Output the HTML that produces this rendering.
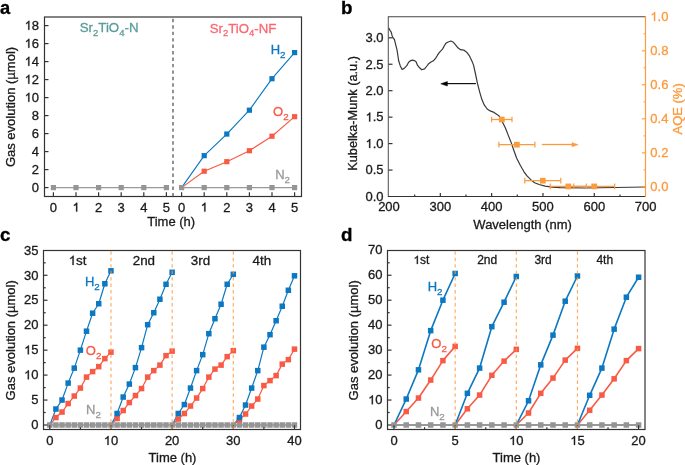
<!DOCTYPE html>
<html><head><meta charset="utf-8"><style>
html,body{margin:0;padding:0;background:#fff;}
svg{display:block;font-family:"Liberation Sans", sans-serif;will-change:transform;}
</style></head><body>
<svg width="685" height="465" viewBox="0 0 685 465">
<rect width="685" height="465" fill="#fff"/>
<polyline points="181.6,187.6 204.2,155.65 226.8,134.05 249.4,110.2 272,78.7 294.6,52.6" fill="none" stroke="#0c78c2" stroke-width="1.15" stroke-linejoin="round" />
<polyline points="181.6,187.6 204.2,171.22 226.8,161.68 249.4,150.7 272,136.21 294.6,116.68" fill="none" stroke="#f95a45" stroke-width="1.15" stroke-linejoin="round" />
<polyline points="53.4,187.6 76,187.6 98.6,187.6 121.2,187.6 143.8,187.6 166.4,187.6" fill="none" stroke="#999999" stroke-width="1.2" stroke-linejoin="round" />
<polyline points="181.6,187.6 204.2,187.6 226.8,187.6 249.4,187.6 272,187.6 294.6,187.6" fill="none" stroke="#999999" stroke-width="1.2" stroke-linejoin="round" />
<rect x="50.8" y="185" width="5.2" height="5.2" fill="#959595"/>
<rect x="73.4" y="185" width="5.2" height="5.2" fill="#959595"/>
<rect x="96" y="185" width="5.2" height="5.2" fill="#959595"/>
<rect x="118.6" y="185" width="5.2" height="5.2" fill="#959595"/>
<rect x="141.2" y="185" width="5.2" height="5.2" fill="#959595"/>
<rect x="163.8" y="185" width="5.2" height="5.2" fill="#959595"/>
<rect x="179" y="185" width="5.2" height="5.2" fill="#959595"/>
<rect x="201.6" y="185" width="5.2" height="5.2" fill="#959595"/>
<rect x="224.2" y="185" width="5.2" height="5.2" fill="#959595"/>
<rect x="246.8" y="185" width="5.2" height="5.2" fill="#959595"/>
<rect x="269.4" y="185" width="5.2" height="5.2" fill="#959595"/>
<rect x="292" y="185" width="5.2" height="5.2" fill="#959595"/>
<rect x="201.6" y="153.05" width="5.2" height="5.2" fill="#0c78c2"/>
<rect x="224.2" y="131.45" width="5.2" height="5.2" fill="#0c78c2"/>
<rect x="246.8" y="107.6" width="5.2" height="5.2" fill="#0c78c2"/>
<rect x="269.4" y="76.1" width="5.2" height="5.2" fill="#0c78c2"/>
<rect x="292" y="50" width="5.2" height="5.2" fill="#0c78c2"/>
<rect x="201.6" y="168.62" width="5.2" height="5.2" fill="#f95a45"/>
<rect x="224.2" y="159.08" width="5.2" height="5.2" fill="#f95a45"/>
<rect x="246.8" y="148.1" width="5.2" height="5.2" fill="#f95a45"/>
<rect x="269.4" y="133.61" width="5.2" height="5.2" fill="#f95a45"/>
<rect x="292" y="114.08" width="5.2" height="5.2" fill="#f95a45"/>
<line x1="173" y1="18.8" x2="173" y2="196.5" stroke="#777777" stroke-width="1.6" stroke-dasharray="3.4 3.05"/>
<rect x="44.5" y="17.0" width="257.0" height="179.5" fill="none" stroke="#333333" stroke-width="1.2"/>
<line x1="44.5" y1="187.6" x2="48.5" y2="187.6" stroke="#333333" stroke-width="1.2" />
<text x="39" y="191.8" text-anchor="end" font-size="13" fill="#1a1a1a" font-weight="normal"  stroke="#1a1a1a" stroke-width="0.3">0</text>
<line x1="44.5" y1="169.6" x2="48.5" y2="169.6" stroke="#333333" stroke-width="1.2" />
<text x="39" y="173.8" text-anchor="end" font-size="13" fill="#1a1a1a" font-weight="normal"  stroke="#1a1a1a" stroke-width="0.3">2</text>
<line x1="44.5" y1="151.6" x2="48.5" y2="151.6" stroke="#333333" stroke-width="1.2" />
<text x="39" y="155.8" text-anchor="end" font-size="13" fill="#1a1a1a" font-weight="normal"  stroke="#1a1a1a" stroke-width="0.3">4</text>
<line x1="44.5" y1="133.6" x2="48.5" y2="133.6" stroke="#333333" stroke-width="1.2" />
<text x="39" y="137.8" text-anchor="end" font-size="13" fill="#1a1a1a" font-weight="normal"  stroke="#1a1a1a" stroke-width="0.3">6</text>
<line x1="44.5" y1="115.6" x2="48.5" y2="115.6" stroke="#333333" stroke-width="1.2" />
<text x="39" y="119.8" text-anchor="end" font-size="13" fill="#1a1a1a" font-weight="normal"  stroke="#1a1a1a" stroke-width="0.3">8</text>
<line x1="44.5" y1="97.6" x2="48.5" y2="97.6" stroke="#333333" stroke-width="1.2" />
<text x="39" y="101.8" text-anchor="end" font-size="13" fill="#1a1a1a" font-weight="normal"  stroke="#1a1a1a" stroke-width="0.3">&#x2007;0</text>
<path d="M763,0 L583,0 L583,1097 Q520,1038 419,979 Q318,920 238,890 L238,1057 Q382,1125 490,1221 Q598,1318 643,1409 L763,1409 Z" fill="#1a1a1a" stroke="#1a1a1a" stroke-width="0.3" vector-effect="non-scaling-stroke" transform="translate(24.540,101.8) scale(0.006348,-0.006348)"/>
<line x1="44.5" y1="79.6" x2="48.5" y2="79.6" stroke="#333333" stroke-width="1.2" />
<text x="39" y="83.8" text-anchor="end" font-size="13" fill="#1a1a1a" font-weight="normal"  stroke="#1a1a1a" stroke-width="0.3">&#x2007;2</text>
<path d="M763,0 L583,0 L583,1097 Q520,1038 419,979 Q318,920 238,890 L238,1057 Q382,1125 490,1221 Q598,1318 643,1409 L763,1409 Z" fill="#1a1a1a" stroke="#1a1a1a" stroke-width="0.3" vector-effect="non-scaling-stroke" transform="translate(24.540,83.8) scale(0.006348,-0.006348)"/>
<line x1="44.5" y1="61.6" x2="48.5" y2="61.6" stroke="#333333" stroke-width="1.2" />
<text x="39" y="65.8" text-anchor="end" font-size="13" fill="#1a1a1a" font-weight="normal"  stroke="#1a1a1a" stroke-width="0.3">&#x2007;4</text>
<path d="M763,0 L583,0 L583,1097 Q520,1038 419,979 Q318,920 238,890 L238,1057 Q382,1125 490,1221 Q598,1318 643,1409 L763,1409 Z" fill="#1a1a1a" stroke="#1a1a1a" stroke-width="0.3" vector-effect="non-scaling-stroke" transform="translate(24.540,65.8) scale(0.006348,-0.006348)"/>
<line x1="44.5" y1="43.6" x2="48.5" y2="43.6" stroke="#333333" stroke-width="1.2" />
<text x="39" y="47.8" text-anchor="end" font-size="13" fill="#1a1a1a" font-weight="normal"  stroke="#1a1a1a" stroke-width="0.3">&#x2007;6</text>
<path d="M763,0 L583,0 L583,1097 Q520,1038 419,979 Q318,920 238,890 L238,1057 Q382,1125 490,1221 Q598,1318 643,1409 L763,1409 Z" fill="#1a1a1a" stroke="#1a1a1a" stroke-width="0.3" vector-effect="non-scaling-stroke" transform="translate(24.540,47.8) scale(0.006348,-0.006348)"/>
<line x1="44.5" y1="25.6" x2="48.5" y2="25.6" stroke="#333333" stroke-width="1.2" />
<text x="39" y="29.8" text-anchor="end" font-size="13" fill="#1a1a1a" font-weight="normal"  stroke="#1a1a1a" stroke-width="0.3">&#x2007;8</text>
<path d="M763,0 L583,0 L583,1097 Q520,1038 419,979 Q318,920 238,890 L238,1057 Q382,1125 490,1221 Q598,1318 643,1409 L763,1409 Z" fill="#1a1a1a" stroke="#1a1a1a" stroke-width="0.3" vector-effect="non-scaling-stroke" transform="translate(24.540,29.8) scale(0.006348,-0.006348)"/>
<line x1="53.4" y1="196.5" x2="53.4" y2="192.2" stroke="#333333" stroke-width="1.2" />
<text x="53.4" y="211.6" text-anchor="middle" font-size="13" fill="#1a1a1a" font-weight="normal"  stroke="#1a1a1a" stroke-width="0.3">0</text>
<line x1="181.6" y1="196.5" x2="181.6" y2="192.2" stroke="#333333" stroke-width="1.2" />
<text x="181.6" y="211.6" text-anchor="middle" font-size="13" fill="#1a1a1a" font-weight="normal"  stroke="#1a1a1a" stroke-width="0.3">0</text>
<line x1="76" y1="196.5" x2="76" y2="192.2" stroke="#333333" stroke-width="1.2" />
<text x="76" y="211.6" text-anchor="middle" font-size="13" fill="#1a1a1a" font-weight="normal"  stroke="#1a1a1a" stroke-width="0.3">&#x2007;</text>
<path d="M763,0 L583,0 L583,1097 Q520,1038 419,979 Q318,920 238,890 L238,1057 Q382,1125 490,1221 Q598,1318 643,1409 L763,1409 Z" fill="#1a1a1a" stroke="#1a1a1a" stroke-width="0.3" vector-effect="non-scaling-stroke" transform="translate(72.385,211.6) scale(0.006348,-0.006348)"/>
<line x1="204.2" y1="196.5" x2="204.2" y2="192.2" stroke="#333333" stroke-width="1.2" />
<text x="204.2" y="211.6" text-anchor="middle" font-size="13" fill="#1a1a1a" font-weight="normal"  stroke="#1a1a1a" stroke-width="0.3">&#x2007;</text>
<path d="M763,0 L583,0 L583,1097 Q520,1038 419,979 Q318,920 238,890 L238,1057 Q382,1125 490,1221 Q598,1318 643,1409 L763,1409 Z" fill="#1a1a1a" stroke="#1a1a1a" stroke-width="0.3" vector-effect="non-scaling-stroke" transform="translate(200.585,211.6) scale(0.006348,-0.006348)"/>
<line x1="98.6" y1="196.5" x2="98.6" y2="192.2" stroke="#333333" stroke-width="1.2" />
<text x="98.6" y="211.6" text-anchor="middle" font-size="13" fill="#1a1a1a" font-weight="normal"  stroke="#1a1a1a" stroke-width="0.3">2</text>
<line x1="226.8" y1="196.5" x2="226.8" y2="192.2" stroke="#333333" stroke-width="1.2" />
<text x="226.8" y="211.6" text-anchor="middle" font-size="13" fill="#1a1a1a" font-weight="normal"  stroke="#1a1a1a" stroke-width="0.3">2</text>
<line x1="121.2" y1="196.5" x2="121.2" y2="192.2" stroke="#333333" stroke-width="1.2" />
<text x="121.2" y="211.6" text-anchor="middle" font-size="13" fill="#1a1a1a" font-weight="normal"  stroke="#1a1a1a" stroke-width="0.3">3</text>
<line x1="249.4" y1="196.5" x2="249.4" y2="192.2" stroke="#333333" stroke-width="1.2" />
<text x="249.4" y="211.6" text-anchor="middle" font-size="13" fill="#1a1a1a" font-weight="normal"  stroke="#1a1a1a" stroke-width="0.3">3</text>
<line x1="143.8" y1="196.5" x2="143.8" y2="192.2" stroke="#333333" stroke-width="1.2" />
<text x="143.8" y="211.6" text-anchor="middle" font-size="13" fill="#1a1a1a" font-weight="normal"  stroke="#1a1a1a" stroke-width="0.3">4</text>
<line x1="272" y1="196.5" x2="272" y2="192.2" stroke="#333333" stroke-width="1.2" />
<text x="272" y="211.6" text-anchor="middle" font-size="13" fill="#1a1a1a" font-weight="normal"  stroke="#1a1a1a" stroke-width="0.3">4</text>
<line x1="166.4" y1="196.5" x2="166.4" y2="192.2" stroke="#333333" stroke-width="1.2" />
<text x="166.4" y="211.6" text-anchor="middle" font-size="13" fill="#1a1a1a" font-weight="normal"  stroke="#1a1a1a" stroke-width="0.3">5</text>
<line x1="294.6" y1="196.5" x2="294.6" y2="192.2" stroke="#333333" stroke-width="1.2" />
<text x="294.6" y="211.6" text-anchor="middle" font-size="13" fill="#1a1a1a" font-weight="normal"  stroke="#1a1a1a" stroke-width="0.3">5</text>
<text x="171.2" y="225.8" text-anchor="middle" font-size="13" fill="#1a1a1a" font-weight="normal"  stroke="#1a1a1a" stroke-width="0.3">Time (h)</text>
<text transform="translate(15.3,107.0) rotate(-90)" text-anchor="middle" font-size="13" fill="#1a1a1a" stroke="#1a1a1a" stroke-width="0.3">Gas evolution (µmol)</text>
<text x="79.7" y="32.3" font-size="13.3" fill="#5b9c9c" stroke="#5b9c9c" stroke-width="0.3">Sr<tspan font-size="9.5" dy="3.8">2</tspan><tspan dy="-3.8">TiO</tspan><tspan font-size="9.5" dy="3.8">4</tspan><tspan dy="-3.8">-N</tspan></text>
<text x="209.8" y="32.5" font-size="13.2" fill="#fa6872" stroke="#fa6872" stroke-width="0.3">Sr<tspan font-size="9.5" dy="3.8">2</tspan><tspan dy="-3.8">TiO</tspan><tspan font-size="9.5" dy="3.8">4</tspan><tspan dy="-3.8">-NF</tspan></text>
<text x="270.7" y="53.8" text-anchor="start" font-size="13" fill="#0c78c2" stroke="#0c78c2" stroke-width="0.3">H<tspan font-size="9.8" dy="4.0">2</tspan></text>
<text x="273" y="115.7" text-anchor="start" font-size="13" fill="#f95a45" stroke="#f95a45" stroke-width="0.3">O<tspan font-size="9.8" dy="4.0">2</tspan></text>
<text x="275.2" y="179.4" text-anchor="start" font-size="13" fill="#999999" stroke="#999999" stroke-width="0.3">N<tspan font-size="9.8" dy="4.0">2</tspan></text>
<text x="0" y="13.9" font-size="18.3" font-weight="bold" fill="#000" stroke="#000" stroke-width="0.3">a</text>
<path d="M388.6,27.8 L390,30.4 L391.1,31.9 L392.2,35.9 L392.9,37.7 L394.4,39.5 L395.5,43.9 L397,49.8 L397.8,55 L398.6,60.5 L400.1,65.4 L402.1,69.5 L404.2,68.4 L406.8,65.7 L408.6,62.2 L410.5,60.7 L412.4,60.2 L414.2,60.6 L415.9,61.6 L417.6,65.4 L419.6,67.8 L421.7,69.8 L424.6,68.9 L426.5,66.5 L428.7,63.7 L431,62 L433.4,60.8 L435.7,58.1 L437.5,55.2 L439.2,52.6 L442.5,49.1 L444.5,45.5 L445.7,43.6 L447.6,42.2 L450.8,41 L453.4,42.3 L455.4,44.6 L457.9,47.8 L460.5,49.7 L463.7,50.1 L467,52.6 L469.5,55.9 L472.1,61.4 L473.6,65.4 L475.2,72.5 L477.4,83.1 L479.7,92.1 L481.9,99.6 L484.2,104.9 L487.2,109 L490.2,110.9 L494,112.4 L497,114.4 L499.3,116.3 L502.3,121.8 L505.3,127.8 L508.3,135.4 L511.3,142.9 L513.6,149.7 L516.6,158 L520.4,165.5 L524,171.8 L527,175.9 L530.8,179.7 L534.6,182.7 L539.1,184.5 L545.1,186.1 L552.6,187.2 L560.2,187.7 L585,188 L645,187" fill="none" stroke="#383838" stroke-width="1.2" stroke-linejoin="round"/>
<line x1="446" y1="83.6" x2="475.9" y2="83.6" stroke="#111" stroke-width="1.2" />
<path d="M440.8,83.8 L447.4,81.6 L447.4,86 Z" fill="#000" stroke="#000" stroke-width="0.5" stroke-linejoin="round"/>
<line x1="541.8" y1="144.5" x2="573" y2="144.5" stroke="#fd9a3c" stroke-width="1.3" />
<path d="M578.2,144.7 L572,142.6 L572,146.8 Z" fill="#fd9a3c" stroke="#fd9a3c" stroke-width="0.5" stroke-linejoin="round"/>
<line x1="491.6" y1="119.5" x2="512" y2="119.5" stroke="#fd9a3c" stroke-width="1.3" />
<line x1="491.6" y1="116.65" x2="491.6" y2="122.35" stroke="#fd9a3c" stroke-width="1.2" />
<line x1="512" y1="116.65" x2="512" y2="122.35" stroke="#fd9a3c" stroke-width="1.2" />
<line x1="498.9" y1="144.7" x2="534.9" y2="144.7" stroke="#fd9a3c" stroke-width="1.3" />
<line x1="498.9" y1="141.85" x2="498.9" y2="147.55" stroke="#fd9a3c" stroke-width="1.2" />
<line x1="534.9" y1="141.85" x2="534.9" y2="147.55" stroke="#fd9a3c" stroke-width="1.2" />
<line x1="524.8" y1="180.7" x2="560.8" y2="180.7" stroke="#fd9a3c" stroke-width="1.3" />
<line x1="524.8" y1="177.85" x2="524.8" y2="183.55" stroke="#fd9a3c" stroke-width="1.2" />
<line x1="560.8" y1="177.85" x2="560.8" y2="183.55" stroke="#fd9a3c" stroke-width="1.2" />
<line x1="550.3" y1="186.4" x2="586.3" y2="186.4" stroke="#fd9a3c" stroke-width="1.3" />
<line x1="550.3" y1="183.55" x2="550.3" y2="189.25" stroke="#fd9a3c" stroke-width="1.2" />
<line x1="586.3" y1="183.55" x2="586.3" y2="189.25" stroke="#fd9a3c" stroke-width="1.2" />
<line x1="573.7" y1="186.4" x2="614.7" y2="186.4" stroke="#fd9a3c" stroke-width="1.3" />
<line x1="573.7" y1="183.55" x2="573.7" y2="189.25" stroke="#fd9a3c" stroke-width="1.2" />
<line x1="614.7" y1="183.55" x2="614.7" y2="189.25" stroke="#fd9a3c" stroke-width="1.2" />
<rect x="498.95" y="116.65" width="5.7" height="5.7" fill="#fd9a3c"/>
<rect x="514.05" y="141.85" width="5.7" height="5.7" fill="#fd9a3c"/>
<rect x="539.95" y="177.85" width="5.7" height="5.7" fill="#fd9a3c"/>
<rect x="565.45" y="183.55" width="5.7" height="5.7" fill="#fd9a3c"/>
<rect x="591.35" y="183.55" width="5.7" height="5.7" fill="#fd9a3c"/>
<line x1="388.3" y1="16.7" x2="388.3" y2="196.5" stroke="#555" stroke-width="1.05" />
<line x1="387.9" y1="196.5" x2="645.5" y2="196.5" stroke="#333333" stroke-width="1.2" />
<line x1="387.9" y1="16.7" x2="645.5" y2="16.7" stroke="#444" stroke-width="1.1" />
<line x1="645.5" y1="16.1" x2="645.5" y2="197.1" stroke="#fd9a3c" stroke-width="1.2" />
<text x="383.5" y="200.8" text-anchor="end" font-size="13" fill="#1a1a1a" font-weight="normal"  stroke="#1a1a1a" stroke-width="0.3">0.0</text>
<line x1="388.5" y1="170.05" x2="392.5" y2="170.05" stroke="#333333" stroke-width="1.2" />
<text x="383.5" y="174.35" text-anchor="end" font-size="13" fill="#1a1a1a" font-weight="normal"  stroke="#1a1a1a" stroke-width="0.3">0.5</text>
<line x1="388.5" y1="143.6" x2="392.5" y2="143.6" stroke="#333333" stroke-width="1.2" />
<text x="383.5" y="147.9" text-anchor="end" font-size="13" fill="#1a1a1a" font-weight="normal"  stroke="#1a1a1a" stroke-width="0.3">&#x2007;.0</text>
<path d="M763,0 L583,0 L583,1097 Q520,1038 419,979 Q318,920 238,890 L238,1057 Q382,1125 490,1221 Q598,1318 643,1409 L763,1409 Z" fill="#1a1a1a" stroke="#1a1a1a" stroke-width="0.3" vector-effect="non-scaling-stroke" transform="translate(365.428,147.9) scale(0.006348,-0.006348)"/>
<line x1="388.5" y1="117.15" x2="392.5" y2="117.15" stroke="#333333" stroke-width="1.2" />
<text x="383.5" y="121.45" text-anchor="end" font-size="13" fill="#1a1a1a" font-weight="normal"  stroke="#1a1a1a" stroke-width="0.3">&#x2007;.5</text>
<path d="M763,0 L583,0 L583,1097 Q520,1038 419,979 Q318,920 238,890 L238,1057 Q382,1125 490,1221 Q598,1318 643,1409 L763,1409 Z" fill="#1a1a1a" stroke="#1a1a1a" stroke-width="0.3" vector-effect="non-scaling-stroke" transform="translate(365.428,121.45) scale(0.006348,-0.006348)"/>
<line x1="388.5" y1="90.7" x2="392.5" y2="90.7" stroke="#333333" stroke-width="1.2" />
<text x="383.5" y="95" text-anchor="end" font-size="13" fill="#1a1a1a" font-weight="normal"  stroke="#1a1a1a" stroke-width="0.3">2.0</text>
<line x1="388.5" y1="64.25" x2="392.5" y2="64.25" stroke="#333333" stroke-width="1.2" />
<text x="383.5" y="68.55" text-anchor="end" font-size="13" fill="#1a1a1a" font-weight="normal"  stroke="#1a1a1a" stroke-width="0.3">2.5</text>
<line x1="388.5" y1="37.8" x2="392.5" y2="37.8" stroke="#333333" stroke-width="1.2" />
<text x="383.5" y="42.1" text-anchor="end" font-size="13" fill="#1a1a1a" font-weight="normal"  stroke="#1a1a1a" stroke-width="0.3">3.0</text>
<text x="389" y="211.3" text-anchor="middle" font-size="13" fill="#1a1a1a" font-weight="normal"  stroke="#1a1a1a" stroke-width="0.3">200</text>
<line x1="414.66" y1="196.5" x2="414.66" y2="194.6" stroke="#333333" stroke-width="1.2" />
<line x1="440.32" y1="196.5" x2="440.32" y2="192.9" stroke="#333333" stroke-width="1.2" />
<text x="440.32" y="211.3" text-anchor="middle" font-size="13" fill="#1a1a1a" font-weight="normal"  stroke="#1a1a1a" stroke-width="0.3">300</text>
<line x1="465.98" y1="196.5" x2="465.98" y2="194.6" stroke="#333333" stroke-width="1.2" />
<line x1="491.64" y1="196.5" x2="491.64" y2="192.9" stroke="#333333" stroke-width="1.2" />
<text x="491.64" y="211.3" text-anchor="middle" font-size="13" fill="#1a1a1a" font-weight="normal"  stroke="#1a1a1a" stroke-width="0.3">400</text>
<line x1="517.3" y1="196.5" x2="517.3" y2="194.6" stroke="#333333" stroke-width="1.2" />
<line x1="542.96" y1="196.5" x2="542.96" y2="192.9" stroke="#333333" stroke-width="1.2" />
<text x="542.96" y="211.3" text-anchor="middle" font-size="13" fill="#1a1a1a" font-weight="normal"  stroke="#1a1a1a" stroke-width="0.3">500</text>
<line x1="568.62" y1="196.5" x2="568.62" y2="194.6" stroke="#333333" stroke-width="1.2" />
<line x1="594.28" y1="196.5" x2="594.28" y2="192.9" stroke="#333333" stroke-width="1.2" />
<text x="594.28" y="211.3" text-anchor="middle" font-size="13" fill="#1a1a1a" font-weight="normal"  stroke="#1a1a1a" stroke-width="0.3">600</text>
<line x1="619.94" y1="196.5" x2="619.94" y2="194.6" stroke="#333333" stroke-width="1.2" />
<text x="645.6" y="211.3" text-anchor="middle" font-size="13" fill="#1a1a1a" font-weight="normal"  stroke="#1a1a1a" stroke-width="0.3">700</text>
<line x1="645.5" y1="186.9" x2="641.8" y2="186.9" stroke="#fd9a3c" stroke-width="1.1" />
<text x="650.3" y="191.1" text-anchor="start" font-size="13" fill="#fd9a3c" font-weight="normal"  stroke="#fd9a3c" stroke-width="0.3">0.0</text>
<line x1="645.5" y1="169.89" x2="643.6" y2="169.89" stroke="#fd9a3c" stroke-width="1.1" />
<line x1="645.5" y1="152.88" x2="641.8" y2="152.88" stroke="#fd9a3c" stroke-width="1.1" />
<text x="650.3" y="157.08" text-anchor="start" font-size="13" fill="#fd9a3c" font-weight="normal"  stroke="#fd9a3c" stroke-width="0.3">0.2</text>
<line x1="645.5" y1="135.87" x2="643.6" y2="135.87" stroke="#fd9a3c" stroke-width="1.1" />
<line x1="645.5" y1="118.86" x2="641.8" y2="118.86" stroke="#fd9a3c" stroke-width="1.1" />
<text x="650.3" y="123.06" text-anchor="start" font-size="13" fill="#fd9a3c" font-weight="normal"  stroke="#fd9a3c" stroke-width="0.3">0.4</text>
<line x1="645.5" y1="101.85" x2="643.6" y2="101.85" stroke="#fd9a3c" stroke-width="1.1" />
<line x1="645.5" y1="84.84" x2="641.8" y2="84.84" stroke="#fd9a3c" stroke-width="1.1" />
<text x="650.3" y="89.04" text-anchor="start" font-size="13" fill="#fd9a3c" font-weight="normal"  stroke="#fd9a3c" stroke-width="0.3">0.6</text>
<line x1="645.5" y1="67.83" x2="643.6" y2="67.83" stroke="#fd9a3c" stroke-width="1.1" />
<line x1="645.5" y1="50.82" x2="641.8" y2="50.82" stroke="#fd9a3c" stroke-width="1.1" />
<text x="650.3" y="55.02" text-anchor="start" font-size="13" fill="#fd9a3c" font-weight="normal"  stroke="#fd9a3c" stroke-width="0.3">0.8</text>
<line x1="645.5" y1="33.81" x2="643.6" y2="33.81" stroke="#fd9a3c" stroke-width="1.1" />
<text x="650.3" y="21" text-anchor="start" font-size="13" fill="#fd9a3c" font-weight="normal"  stroke="#fd9a3c" stroke-width="0.3">&#x2007;.0</text>
<path d="M763,0 L583,0 L583,1097 Q520,1038 419,979 Q318,920 238,890 L238,1057 Q382,1125 490,1221 Q598,1318 643,1409 L763,1409 Z" fill="#fd9a3c" stroke="#fd9a3c" stroke-width="0.3" vector-effect="non-scaling-stroke" transform="translate(650.300,21) scale(0.006348,-0.006348)"/>
<text x="522.6" y="229.2" text-anchor="middle" font-size="13" fill="#1a1a1a" font-weight="normal"  stroke="#1a1a1a" stroke-width="0.3">Wavelength (nm)</text>
<text transform="translate(356.6,113.4) rotate(-90)" text-anchor="middle" font-size="12.75" fill="#1a1a1a" stroke="#1a1a1a" stroke-width="0.3">Kubelka-Munk (a.u.)</text>
<text transform="translate(682,108.9) rotate(-90)" text-anchor="middle" font-size="13" fill="#fd9a3c" stroke="#fd9a3c" stroke-width="0.3">AQE (%)</text>
<text x="341" y="13.8" font-size="18.8" font-weight="bold" fill="#000" stroke="#000" stroke-width="0.3">b</text>
<polyline points="49.8,425 55.92,417.51 62.03,412.03 68.15,403.54 74.27,396.06 80.38,388.07 86.5,377.1 92.62,371.61 98.74,366.62 104.85,358.63 110.97,352.15" fill="none" stroke="#f95a45" stroke-width="1.2" stroke-linejoin="round" />
<polyline points="49.8,425 55.92,409.03 62.03,400.05 68.15,383.08 74.27,368.11 80.38,350.15 86.5,331.19 92.62,313.22 98.74,303.74 104.85,283.78 110.97,270.81" fill="none" stroke="#0c78c2" stroke-width="1.2" stroke-linejoin="round" />
<polyline points="110.97,425 117.09,418.51 123.2,410.53 129.32,402.55 135.44,395.56 141.56,388.57 147.67,377.1 153.79,370.61 159.91,365.12 166.02,355.64 172.14,351.15" fill="none" stroke="#f95a45" stroke-width="1.2" stroke-linejoin="round" />
<polyline points="110.97,425 117.09,413.52 123.2,397.06 129.32,384.08 135.44,367.62 141.56,347.65 147.67,324.7 153.79,312.73 159.91,299.25 166.02,284.28 172.14,272.31" fill="none" stroke="#0c78c2" stroke-width="1.2" stroke-linejoin="round" />
<polyline points="172.14,425 178.26,419.01 184.37,413.52 190.49,406.04 196.61,398.05 202.73,388.57 208.84,377.1 214.96,369.11 221.08,365.12 227.19,356.64 233.31,350.65" fill="none" stroke="#f95a45" stroke-width="1.2" stroke-linejoin="round" />
<polyline points="172.14,425 178.26,413.52 184.37,404.54 190.49,388.07 196.61,370.61 202.73,354.64 208.84,333.68 214.96,318.71 221.08,304.24 227.19,284.28 233.31,274.3" fill="none" stroke="#0c78c2" stroke-width="1.2" stroke-linejoin="round" />
<polyline points="233.31,425 239.43,420.01 245.54,414.02 251.66,406.04 257.78,399.05 263.89,385.58 270.01,380.59 276.13,375.6 282.25,364.12 288.36,359.63 294.48,349.15" fill="none" stroke="#f95a45" stroke-width="1.2" stroke-linejoin="round" />
<polyline points="233.31,425 239.43,417.51 245.54,405.04 251.66,388.07 257.78,370.61 263.89,347.16 270.01,334.68 276.13,320.71 282.25,306.24 288.36,290.27 294.48,275.8" fill="none" stroke="#0c78c2" stroke-width="1.2" stroke-linejoin="round" />
<polyline points="49.8,425 55.92,425 62.03,425 68.15,425 74.27,425 80.38,425 86.5,425 92.62,425 98.74,425 104.85,425 110.97,425 117.09,425 123.2,425 129.32,425 135.44,425 141.56,425 147.67,425 153.79,425 159.91,425 166.02,425 172.14,425 178.26,425 184.37,425 190.49,425 196.61,425 202.73,425 208.84,425 214.96,425 221.08,425 227.19,425 233.31,425 239.43,425 245.54,425 251.66,425 257.78,425 263.89,425 270.01,425 276.13,425 282.25,425 288.36,425 294.48,425" fill="none" stroke="#999999" stroke-width="1.5" stroke-linejoin="round" />
<rect x="47.05" y="422.25" width="5.5" height="5.5" fill="#959595"/>
<rect x="53.17" y="422.25" width="5.5" height="5.5" fill="#959595"/>
<rect x="59.28" y="422.25" width="5.5" height="5.5" fill="#959595"/>
<rect x="65.4" y="422.25" width="5.5" height="5.5" fill="#959595"/>
<rect x="71.52" y="422.25" width="5.5" height="5.5" fill="#959595"/>
<rect x="77.63" y="422.25" width="5.5" height="5.5" fill="#959595"/>
<rect x="83.75" y="422.25" width="5.5" height="5.5" fill="#959595"/>
<rect x="89.87" y="422.25" width="5.5" height="5.5" fill="#959595"/>
<rect x="95.99" y="422.25" width="5.5" height="5.5" fill="#959595"/>
<rect x="102.1" y="422.25" width="5.5" height="5.5" fill="#959595"/>
<rect x="108.22" y="422.25" width="5.5" height="5.5" fill="#959595"/>
<rect x="114.34" y="422.25" width="5.5" height="5.5" fill="#959595"/>
<rect x="120.45" y="422.25" width="5.5" height="5.5" fill="#959595"/>
<rect x="126.57" y="422.25" width="5.5" height="5.5" fill="#959595"/>
<rect x="132.69" y="422.25" width="5.5" height="5.5" fill="#959595"/>
<rect x="138.81" y="422.25" width="5.5" height="5.5" fill="#959595"/>
<rect x="144.92" y="422.25" width="5.5" height="5.5" fill="#959595"/>
<rect x="151.04" y="422.25" width="5.5" height="5.5" fill="#959595"/>
<rect x="157.16" y="422.25" width="5.5" height="5.5" fill="#959595"/>
<rect x="163.27" y="422.25" width="5.5" height="5.5" fill="#959595"/>
<rect x="169.39" y="422.25" width="5.5" height="5.5" fill="#959595"/>
<rect x="175.51" y="422.25" width="5.5" height="5.5" fill="#959595"/>
<rect x="181.62" y="422.25" width="5.5" height="5.5" fill="#959595"/>
<rect x="187.74" y="422.25" width="5.5" height="5.5" fill="#959595"/>
<rect x="193.86" y="422.25" width="5.5" height="5.5" fill="#959595"/>
<rect x="199.98" y="422.25" width="5.5" height="5.5" fill="#959595"/>
<rect x="206.09" y="422.25" width="5.5" height="5.5" fill="#959595"/>
<rect x="212.21" y="422.25" width="5.5" height="5.5" fill="#959595"/>
<rect x="218.33" y="422.25" width="5.5" height="5.5" fill="#959595"/>
<rect x="224.44" y="422.25" width="5.5" height="5.5" fill="#959595"/>
<rect x="230.56" y="422.25" width="5.5" height="5.5" fill="#959595"/>
<rect x="236.68" y="422.25" width="5.5" height="5.5" fill="#959595"/>
<rect x="242.79" y="422.25" width="5.5" height="5.5" fill="#959595"/>
<rect x="248.91" y="422.25" width="5.5" height="5.5" fill="#959595"/>
<rect x="255.03" y="422.25" width="5.5" height="5.5" fill="#959595"/>
<rect x="261.14" y="422.25" width="5.5" height="5.5" fill="#959595"/>
<rect x="267.26" y="422.25" width="5.5" height="5.5" fill="#959595"/>
<rect x="273.38" y="422.25" width="5.5" height="5.5" fill="#959595"/>
<rect x="279.5" y="422.25" width="5.5" height="5.5" fill="#959595"/>
<rect x="285.61" y="422.25" width="5.5" height="5.5" fill="#959595"/>
<rect x="291.73" y="422.25" width="5.5" height="5.5" fill="#959595"/>
<rect x="53.17" y="414.76" width="5.5" height="5.5" fill="#f95a45"/>
<rect x="59.28" y="409.28" width="5.5" height="5.5" fill="#f95a45"/>
<rect x="65.4" y="400.79" width="5.5" height="5.5" fill="#f95a45"/>
<rect x="71.52" y="393.31" width="5.5" height="5.5" fill="#f95a45"/>
<rect x="77.63" y="385.32" width="5.5" height="5.5" fill="#f95a45"/>
<rect x="83.75" y="374.35" width="5.5" height="5.5" fill="#f95a45"/>
<rect x="89.87" y="368.86" width="5.5" height="5.5" fill="#f95a45"/>
<rect x="95.99" y="363.87" width="5.5" height="5.5" fill="#f95a45"/>
<rect x="102.1" y="355.88" width="5.5" height="5.5" fill="#f95a45"/>
<rect x="108.22" y="349.4" width="5.5" height="5.5" fill="#f95a45"/>
<rect x="53.17" y="406.28" width="5.5" height="5.5" fill="#0c78c2"/>
<rect x="59.28" y="397.3" width="5.5" height="5.5" fill="#0c78c2"/>
<rect x="65.4" y="380.33" width="5.5" height="5.5" fill="#0c78c2"/>
<rect x="71.52" y="365.36" width="5.5" height="5.5" fill="#0c78c2"/>
<rect x="77.63" y="347.4" width="5.5" height="5.5" fill="#0c78c2"/>
<rect x="83.75" y="328.44" width="5.5" height="5.5" fill="#0c78c2"/>
<rect x="89.87" y="310.47" width="5.5" height="5.5" fill="#0c78c2"/>
<rect x="95.99" y="300.99" width="5.5" height="5.5" fill="#0c78c2"/>
<rect x="102.1" y="281.03" width="5.5" height="5.5" fill="#0c78c2"/>
<rect x="108.22" y="268.06" width="5.5" height="5.5" fill="#0c78c2"/>
<rect x="114.34" y="415.76" width="5.5" height="5.5" fill="#f95a45"/>
<rect x="120.45" y="407.78" width="5.5" height="5.5" fill="#f95a45"/>
<rect x="126.57" y="399.8" width="5.5" height="5.5" fill="#f95a45"/>
<rect x="132.69" y="392.81" width="5.5" height="5.5" fill="#f95a45"/>
<rect x="138.81" y="385.82" width="5.5" height="5.5" fill="#f95a45"/>
<rect x="144.92" y="374.35" width="5.5" height="5.5" fill="#f95a45"/>
<rect x="151.04" y="367.86" width="5.5" height="5.5" fill="#f95a45"/>
<rect x="157.16" y="362.37" width="5.5" height="5.5" fill="#f95a45"/>
<rect x="163.27" y="352.89" width="5.5" height="5.5" fill="#f95a45"/>
<rect x="169.39" y="348.4" width="5.5" height="5.5" fill="#f95a45"/>
<rect x="114.34" y="410.77" width="5.5" height="5.5" fill="#0c78c2"/>
<rect x="120.45" y="394.31" width="5.5" height="5.5" fill="#0c78c2"/>
<rect x="126.57" y="381.33" width="5.5" height="5.5" fill="#0c78c2"/>
<rect x="132.69" y="364.87" width="5.5" height="5.5" fill="#0c78c2"/>
<rect x="138.81" y="344.9" width="5.5" height="5.5" fill="#0c78c2"/>
<rect x="144.92" y="321.95" width="5.5" height="5.5" fill="#0c78c2"/>
<rect x="151.04" y="309.98" width="5.5" height="5.5" fill="#0c78c2"/>
<rect x="157.16" y="296.5" width="5.5" height="5.5" fill="#0c78c2"/>
<rect x="163.27" y="281.53" width="5.5" height="5.5" fill="#0c78c2"/>
<rect x="169.39" y="269.56" width="5.5" height="5.5" fill="#0c78c2"/>
<rect x="175.51" y="416.26" width="5.5" height="5.5" fill="#f95a45"/>
<rect x="181.62" y="410.77" width="5.5" height="5.5" fill="#f95a45"/>
<rect x="187.74" y="403.29" width="5.5" height="5.5" fill="#f95a45"/>
<rect x="193.86" y="395.3" width="5.5" height="5.5" fill="#f95a45"/>
<rect x="199.98" y="385.82" width="5.5" height="5.5" fill="#f95a45"/>
<rect x="206.09" y="374.35" width="5.5" height="5.5" fill="#f95a45"/>
<rect x="212.21" y="366.36" width="5.5" height="5.5" fill="#f95a45"/>
<rect x="218.33" y="362.37" width="5.5" height="5.5" fill="#f95a45"/>
<rect x="224.44" y="353.89" width="5.5" height="5.5" fill="#f95a45"/>
<rect x="230.56" y="347.9" width="5.5" height="5.5" fill="#f95a45"/>
<rect x="175.51" y="410.77" width="5.5" height="5.5" fill="#0c78c2"/>
<rect x="181.62" y="401.79" width="5.5" height="5.5" fill="#0c78c2"/>
<rect x="187.74" y="385.32" width="5.5" height="5.5" fill="#0c78c2"/>
<rect x="193.86" y="367.86" width="5.5" height="5.5" fill="#0c78c2"/>
<rect x="199.98" y="351.89" width="5.5" height="5.5" fill="#0c78c2"/>
<rect x="206.09" y="330.93" width="5.5" height="5.5" fill="#0c78c2"/>
<rect x="212.21" y="315.96" width="5.5" height="5.5" fill="#0c78c2"/>
<rect x="218.33" y="301.49" width="5.5" height="5.5" fill="#0c78c2"/>
<rect x="224.44" y="281.53" width="5.5" height="5.5" fill="#0c78c2"/>
<rect x="230.56" y="271.55" width="5.5" height="5.5" fill="#0c78c2"/>
<rect x="236.68" y="417.26" width="5.5" height="5.5" fill="#f95a45"/>
<rect x="242.79" y="411.27" width="5.5" height="5.5" fill="#f95a45"/>
<rect x="248.91" y="403.29" width="5.5" height="5.5" fill="#f95a45"/>
<rect x="255.03" y="396.3" width="5.5" height="5.5" fill="#f95a45"/>
<rect x="261.14" y="382.83" width="5.5" height="5.5" fill="#f95a45"/>
<rect x="267.26" y="377.84" width="5.5" height="5.5" fill="#f95a45"/>
<rect x="273.38" y="372.85" width="5.5" height="5.5" fill="#f95a45"/>
<rect x="279.5" y="361.37" width="5.5" height="5.5" fill="#f95a45"/>
<rect x="285.61" y="356.88" width="5.5" height="5.5" fill="#f95a45"/>
<rect x="291.73" y="346.4" width="5.5" height="5.5" fill="#f95a45"/>
<rect x="236.68" y="414.76" width="5.5" height="5.5" fill="#0c78c2"/>
<rect x="242.79" y="402.29" width="5.5" height="5.5" fill="#0c78c2"/>
<rect x="248.91" y="385.32" width="5.5" height="5.5" fill="#0c78c2"/>
<rect x="255.03" y="367.86" width="5.5" height="5.5" fill="#0c78c2"/>
<rect x="261.14" y="344.41" width="5.5" height="5.5" fill="#0c78c2"/>
<rect x="267.26" y="331.93" width="5.5" height="5.5" fill="#0c78c2"/>
<rect x="273.38" y="317.96" width="5.5" height="5.5" fill="#0c78c2"/>
<rect x="279.5" y="303.49" width="5.5" height="5.5" fill="#0c78c2"/>
<rect x="285.61" y="287.52" width="5.5" height="5.5" fill="#0c78c2"/>
<rect x="291.73" y="273.05" width="5.5" height="5.5" fill="#0c78c2"/>
<rect x="43.5" y="250.5" width="257" height="179" fill="none" stroke="#333333" stroke-width="1.2"/>
<line x1="43.5" y1="425" x2="47.5" y2="425" stroke="#333333" stroke-width="1.2" />
<text x="38.5" y="429.2" text-anchor="end" font-size="13" fill="#1a1a1a" font-weight="normal"  stroke="#1a1a1a" stroke-width="0.3">0</text>
<line x1="43.5" y1="412.52" x2="45.7" y2="412.52" stroke="#333333" stroke-width="1.2" />
<line x1="43.5" y1="400.05" x2="47.5" y2="400.05" stroke="#333333" stroke-width="1.2" />
<text x="38.5" y="404.25" text-anchor="end" font-size="13" fill="#1a1a1a" font-weight="normal"  stroke="#1a1a1a" stroke-width="0.3">5</text>
<line x1="43.5" y1="387.57" x2="45.7" y2="387.57" stroke="#333333" stroke-width="1.2" />
<line x1="43.5" y1="375.1" x2="47.5" y2="375.1" stroke="#333333" stroke-width="1.2" />
<text x="38.5" y="379.3" text-anchor="end" font-size="13" fill="#1a1a1a" font-weight="normal"  stroke="#1a1a1a" stroke-width="0.3">&#x2007;0</text>
<path d="M763,0 L583,0 L583,1097 Q520,1038 419,979 Q318,920 238,890 L238,1057 Q382,1125 490,1221 Q598,1318 643,1409 L763,1409 Z" fill="#1a1a1a" stroke="#1a1a1a" stroke-width="0.3" vector-effect="non-scaling-stroke" transform="translate(24.040,379.3) scale(0.006348,-0.006348)"/>
<line x1="43.5" y1="362.62" x2="45.7" y2="362.62" stroke="#333333" stroke-width="1.2" />
<line x1="43.5" y1="350.15" x2="47.5" y2="350.15" stroke="#333333" stroke-width="1.2" />
<text x="38.5" y="354.35" text-anchor="end" font-size="13" fill="#1a1a1a" font-weight="normal"  stroke="#1a1a1a" stroke-width="0.3">&#x2007;5</text>
<path d="M763,0 L583,0 L583,1097 Q520,1038 419,979 Q318,920 238,890 L238,1057 Q382,1125 490,1221 Q598,1318 643,1409 L763,1409 Z" fill="#1a1a1a" stroke="#1a1a1a" stroke-width="0.3" vector-effect="non-scaling-stroke" transform="translate(24.040,354.35) scale(0.006348,-0.006348)"/>
<line x1="43.5" y1="337.68" x2="45.7" y2="337.68" stroke="#333333" stroke-width="1.2" />
<line x1="43.5" y1="325.2" x2="47.5" y2="325.2" stroke="#333333" stroke-width="1.2" />
<text x="38.5" y="329.4" text-anchor="end" font-size="13" fill="#1a1a1a" font-weight="normal"  stroke="#1a1a1a" stroke-width="0.3">20</text>
<line x1="43.5" y1="312.73" x2="45.7" y2="312.73" stroke="#333333" stroke-width="1.2" />
<line x1="43.5" y1="300.25" x2="47.5" y2="300.25" stroke="#333333" stroke-width="1.2" />
<text x="38.5" y="304.45" text-anchor="end" font-size="13" fill="#1a1a1a" font-weight="normal"  stroke="#1a1a1a" stroke-width="0.3">25</text>
<line x1="43.5" y1="287.77" x2="45.7" y2="287.77" stroke="#333333" stroke-width="1.2" />
<line x1="43.5" y1="275.3" x2="47.5" y2="275.3" stroke="#333333" stroke-width="1.2" />
<text x="38.5" y="279.5" text-anchor="end" font-size="13" fill="#1a1a1a" font-weight="normal"  stroke="#1a1a1a" stroke-width="0.3">30</text>
<line x1="43.5" y1="262.82" x2="45.7" y2="262.82" stroke="#333333" stroke-width="1.2" />
<text x="38.5" y="254.55" text-anchor="end" font-size="13" fill="#1a1a1a" font-weight="normal"  stroke="#1a1a1a" stroke-width="0.3">35</text>
<line x1="49.8" y1="429.5" x2="49.8" y2="425.2" stroke="#333333" stroke-width="1.2" />
<text x="49.8" y="444.9" text-anchor="middle" font-size="13" fill="#1a1a1a" font-weight="normal"  stroke="#1a1a1a" stroke-width="0.3">0</text>
<line x1="80.38" y1="429.5" x2="80.38" y2="427.2" stroke="#333333" stroke-width="1.2" />
<line x1="110.97" y1="429.5" x2="110.97" y2="425.2" stroke="#333333" stroke-width="1.2" />
<text x="110.97" y="444.9" text-anchor="middle" font-size="13" fill="#1a1a1a" font-weight="normal"  stroke="#1a1a1a" stroke-width="0.3">&#x2007;0</text>
<path d="M763,0 L583,0 L583,1097 Q520,1038 419,979 Q318,920 238,890 L238,1057 Q382,1125 490,1221 Q598,1318 643,1409 L763,1409 Z" fill="#1a1a1a" stroke="#1a1a1a" stroke-width="0.3" vector-effect="non-scaling-stroke" transform="translate(103.740,444.9) scale(0.006348,-0.006348)"/>
<line x1="141.56" y1="429.5" x2="141.56" y2="427.2" stroke="#333333" stroke-width="1.2" />
<line x1="172.14" y1="429.5" x2="172.14" y2="425.2" stroke="#333333" stroke-width="1.2" />
<text x="172.14" y="444.9" text-anchor="middle" font-size="13" fill="#1a1a1a" font-weight="normal"  stroke="#1a1a1a" stroke-width="0.3">20</text>
<line x1="202.73" y1="429.5" x2="202.73" y2="427.2" stroke="#333333" stroke-width="1.2" />
<line x1="233.31" y1="429.5" x2="233.31" y2="425.2" stroke="#333333" stroke-width="1.2" />
<text x="233.31" y="444.9" text-anchor="middle" font-size="13" fill="#1a1a1a" font-weight="normal"  stroke="#1a1a1a" stroke-width="0.3">30</text>
<line x1="263.89" y1="429.5" x2="263.89" y2="427.2" stroke="#333333" stroke-width="1.2" />
<line x1="294.48" y1="429.5" x2="294.48" y2="425.2" stroke="#333333" stroke-width="1.2" />
<text x="294.48" y="444.9" text-anchor="middle" font-size="13" fill="#1a1a1a" font-weight="normal"  stroke="#1a1a1a" stroke-width="0.3">40</text>
<line x1="110.97" y1="251.3" x2="110.97" y2="428.9" stroke="#fd9c40" stroke-width="1.15" stroke-dasharray="3.4 3.06" opacity="0.85"/>
<line x1="172.14" y1="251.3" x2="172.14" y2="428.9" stroke="#fd9c40" stroke-width="1.15" stroke-dasharray="3.4 3.06" opacity="0.85"/>
<line x1="233.31" y1="251.3" x2="233.31" y2="428.9" stroke="#fd9c40" stroke-width="1.15" stroke-dasharray="3.4 3.06" opacity="0.85"/>
<text x="68.65" y="264.9" text-anchor="start" font-size="13.4" fill="#1a1a1a" font-weight="normal"  stroke="#1a1a1a" stroke-width="0.3">&#x2007;st</text>
<path d="M763,0 L583,0 L583,1097 Q520,1038 419,979 Q318,920 238,890 L238,1057 Q382,1125 490,1221 Q598,1318 643,1409 L763,1409 Z" fill="#1a1a1a" stroke="#1a1a1a" stroke-width="0.3" vector-effect="non-scaling-stroke" transform="translate(68.650,264.9) scale(0.006543,-0.006543)"/>
<text x="132.7" y="264.9" text-anchor="start" font-size="13.4" fill="#1a1a1a" font-weight="normal"  stroke="#1a1a1a" stroke-width="0.3">2nd</text>
<text x="190.85" y="264.9" text-anchor="start" font-size="13.4" fill="#1a1a1a" font-weight="normal"  stroke="#1a1a1a" stroke-width="0.3">3rd</text>
<text x="252.5" y="264.9" text-anchor="start" font-size="13.4" fill="#1a1a1a" font-weight="normal"  stroke="#1a1a1a" stroke-width="0.3">4th</text>
<text x="84.9" y="285.9" text-anchor="start" font-size="13" fill="#0c78c2" stroke="#0c78c2" stroke-width="0.3">H<tspan font-size="9.8" dy="4.0">2</tspan></text>
<text x="85.8" y="354.9" text-anchor="start" font-size="13" fill="#f95a45" stroke="#f95a45" stroke-width="0.3">O<tspan font-size="9.8" dy="4.0">2</tspan></text>
<text x="86" y="414.4" text-anchor="start" font-size="13" fill="#999999" stroke="#999999" stroke-width="0.3">N<tspan font-size="9.8" dy="4.0">2</tspan></text>
<text x="172.5" y="461.8" text-anchor="middle" font-size="13" fill="#1a1a1a" font-weight="normal"  stroke="#1a1a1a" stroke-width="0.3">Time (h)</text>
<text transform="translate(15.3,340.3) rotate(-90)" text-anchor="middle" font-size="13" fill="#1a1a1a" stroke="#1a1a1a" stroke-width="0.3">Gas evolution (µmol)</text>
<text x="0" y="241" font-size="18.8" font-weight="bold" fill="#000" stroke="#000" stroke-width="0.3">c</text>
<polyline points="394,425 406.23,411.52 418.46,398.04 430.69,380.07 442.92,360.6 455.15,346.38" fill="none" stroke="#f95a45" stroke-width="1.6" stroke-linejoin="round" />
<polyline points="394,425 406.23,399.04 418.46,369.84 430.69,330.65 442.92,300.2 455.15,273.49" fill="none" stroke="#0c78c2" stroke-width="1.6" stroke-linejoin="round" />
<polyline points="455.15,425 467.38,408.78 479.61,395.05 491.84,375.33 504.07,361.1 516.3,349.37" fill="none" stroke="#f95a45" stroke-width="1.6" stroke-linejoin="round" />
<polyline points="455.15,425 467.38,393.3 479.61,368.09 491.84,326.66 504.07,302.2 516.3,276.49" fill="none" stroke="#0c78c2" stroke-width="1.6" stroke-linejoin="round" />
<polyline points="516.3,425 528.53,413.02 540.76,393.3 552.99,378.08 565.22,360.1 577.45,348.37" fill="none" stroke="#f95a45" stroke-width="1.6" stroke-linejoin="round" />
<polyline points="516.3,425 528.53,400.79 540.76,364.85 552.99,335.14 565.22,301.2 577.45,275.99" fill="none" stroke="#0c78c2" stroke-width="1.6" stroke-linejoin="round" />
<polyline points="577.45,425 589.68,410.27 601.91,395.05 614.14,378.82 626.37,360.6 638.6,348.62" fill="none" stroke="#f95a45" stroke-width="1.6" stroke-linejoin="round" />
<polyline points="577.45,425 589.68,395.3 601.91,368.09 614.14,329.15 626.37,297.2 638.6,277.24" fill="none" stroke="#0c78c2" stroke-width="1.6" stroke-linejoin="round" />
<polyline points="394,425 406.23,425 418.46,425 430.69,425 442.92,425 455.15,425 467.38,425 479.61,425 491.84,425 504.07,425 516.3,425 528.53,425 540.76,425 552.99,425 565.22,425 577.45,425 589.68,425 601.91,425 614.14,425 626.37,425 638.6,425" fill="none" stroke="#999999" stroke-width="1.9000000000000001" stroke-linejoin="round" />
<rect x="391.25" y="422.25" width="5.5" height="5.5" fill="#959595"/>
<rect x="403.48" y="422.25" width="5.5" height="5.5" fill="#959595"/>
<rect x="415.71" y="422.25" width="5.5" height="5.5" fill="#959595"/>
<rect x="427.94" y="422.25" width="5.5" height="5.5" fill="#959595"/>
<rect x="440.17" y="422.25" width="5.5" height="5.5" fill="#959595"/>
<rect x="452.4" y="422.25" width="5.5" height="5.5" fill="#959595"/>
<rect x="464.63" y="422.25" width="5.5" height="5.5" fill="#959595"/>
<rect x="476.86" y="422.25" width="5.5" height="5.5" fill="#959595"/>
<rect x="489.09" y="422.25" width="5.5" height="5.5" fill="#959595"/>
<rect x="501.32" y="422.25" width="5.5" height="5.5" fill="#959595"/>
<rect x="513.55" y="422.25" width="5.5" height="5.5" fill="#959595"/>
<rect x="525.78" y="422.25" width="5.5" height="5.5" fill="#959595"/>
<rect x="538.01" y="422.25" width="5.5" height="5.5" fill="#959595"/>
<rect x="550.24" y="422.25" width="5.5" height="5.5" fill="#959595"/>
<rect x="562.47" y="422.25" width="5.5" height="5.5" fill="#959595"/>
<rect x="574.7" y="422.25" width="5.5" height="5.5" fill="#959595"/>
<rect x="586.93" y="422.25" width="5.5" height="5.5" fill="#959595"/>
<rect x="599.16" y="422.25" width="5.5" height="5.5" fill="#959595"/>
<rect x="611.39" y="422.25" width="5.5" height="5.5" fill="#959595"/>
<rect x="623.62" y="422.25" width="5.5" height="5.5" fill="#959595"/>
<rect x="635.85" y="422.25" width="5.5" height="5.5" fill="#959595"/>
<rect x="403.48" y="408.77" width="5.5" height="5.5" fill="#f95a45"/>
<rect x="415.71" y="395.29" width="5.5" height="5.5" fill="#f95a45"/>
<rect x="427.94" y="377.32" width="5.5" height="5.5" fill="#f95a45"/>
<rect x="440.17" y="357.85" width="5.5" height="5.5" fill="#f95a45"/>
<rect x="452.4" y="343.63" width="5.5" height="5.5" fill="#f95a45"/>
<rect x="403.48" y="396.29" width="5.5" height="5.5" fill="#0c78c2"/>
<rect x="415.71" y="367.09" width="5.5" height="5.5" fill="#0c78c2"/>
<rect x="427.94" y="327.9" width="5.5" height="5.5" fill="#0c78c2"/>
<rect x="440.17" y="297.45" width="5.5" height="5.5" fill="#0c78c2"/>
<rect x="452.4" y="270.74" width="5.5" height="5.5" fill="#0c78c2"/>
<rect x="464.63" y="406.03" width="5.5" height="5.5" fill="#f95a45"/>
<rect x="476.86" y="392.3" width="5.5" height="5.5" fill="#f95a45"/>
<rect x="489.09" y="372.58" width="5.5" height="5.5" fill="#f95a45"/>
<rect x="501.32" y="358.35" width="5.5" height="5.5" fill="#f95a45"/>
<rect x="513.55" y="346.62" width="5.5" height="5.5" fill="#f95a45"/>
<rect x="464.63" y="390.55" width="5.5" height="5.5" fill="#0c78c2"/>
<rect x="476.86" y="365.34" width="5.5" height="5.5" fill="#0c78c2"/>
<rect x="489.09" y="323.91" width="5.5" height="5.5" fill="#0c78c2"/>
<rect x="501.32" y="299.45" width="5.5" height="5.5" fill="#0c78c2"/>
<rect x="513.55" y="273.74" width="5.5" height="5.5" fill="#0c78c2"/>
<rect x="525.78" y="410.27" width="5.5" height="5.5" fill="#f95a45"/>
<rect x="538.01" y="390.55" width="5.5" height="5.5" fill="#f95a45"/>
<rect x="550.24" y="375.33" width="5.5" height="5.5" fill="#f95a45"/>
<rect x="562.47" y="357.35" width="5.5" height="5.5" fill="#f95a45"/>
<rect x="574.7" y="345.62" width="5.5" height="5.5" fill="#f95a45"/>
<rect x="525.78" y="398.04" width="5.5" height="5.5" fill="#0c78c2"/>
<rect x="538.01" y="362.1" width="5.5" height="5.5" fill="#0c78c2"/>
<rect x="550.24" y="332.39" width="5.5" height="5.5" fill="#0c78c2"/>
<rect x="562.47" y="298.45" width="5.5" height="5.5" fill="#0c78c2"/>
<rect x="574.7" y="273.24" width="5.5" height="5.5" fill="#0c78c2"/>
<rect x="586.93" y="407.52" width="5.5" height="5.5" fill="#f95a45"/>
<rect x="599.16" y="392.3" width="5.5" height="5.5" fill="#f95a45"/>
<rect x="611.39" y="376.07" width="5.5" height="5.5" fill="#f95a45"/>
<rect x="623.62" y="357.85" width="5.5" height="5.5" fill="#f95a45"/>
<rect x="635.85" y="345.87" width="5.5" height="5.5" fill="#f95a45"/>
<rect x="586.93" y="392.55" width="5.5" height="5.5" fill="#0c78c2"/>
<rect x="599.16" y="365.34" width="5.5" height="5.5" fill="#0c78c2"/>
<rect x="611.39" y="326.4" width="5.5" height="5.5" fill="#0c78c2"/>
<rect x="623.62" y="294.45" width="5.5" height="5.5" fill="#0c78c2"/>
<rect x="635.85" y="274.49" width="5.5" height="5.5" fill="#0c78c2"/>
<rect x="387.5" y="250.5" width="257.5" height="179" fill="none" stroke="#333333" stroke-width="1.2"/>
<line x1="387.5" y1="425" x2="391.5" y2="425" stroke="#333333" stroke-width="1.2" />
<text x="382.5" y="429.2" text-anchor="end" font-size="13" fill="#1a1a1a" font-weight="normal"  stroke="#1a1a1a" stroke-width="0.3">0</text>
<line x1="387.5" y1="412.52" x2="389.7" y2="412.52" stroke="#333333" stroke-width="1.2" />
<line x1="387.5" y1="400.04" x2="391.5" y2="400.04" stroke="#333333" stroke-width="1.2" />
<text x="382.5" y="404.24" text-anchor="end" font-size="13" fill="#1a1a1a" font-weight="normal"  stroke="#1a1a1a" stroke-width="0.3">&#x2007;0</text>
<path d="M763,0 L583,0 L583,1097 Q520,1038 419,979 Q318,920 238,890 L238,1057 Q382,1125 490,1221 Q598,1318 643,1409 L763,1409 Z" fill="#1a1a1a" stroke="#1a1a1a" stroke-width="0.3" vector-effect="non-scaling-stroke" transform="translate(368.040,404.24) scale(0.006348,-0.006348)"/>
<line x1="387.5" y1="387.56" x2="389.7" y2="387.56" stroke="#333333" stroke-width="1.2" />
<line x1="387.5" y1="375.08" x2="391.5" y2="375.08" stroke="#333333" stroke-width="1.2" />
<text x="382.5" y="379.28" text-anchor="end" font-size="13" fill="#1a1a1a" font-weight="normal"  stroke="#1a1a1a" stroke-width="0.3">20</text>
<line x1="387.5" y1="362.6" x2="389.7" y2="362.6" stroke="#333333" stroke-width="1.2" />
<line x1="387.5" y1="350.12" x2="391.5" y2="350.12" stroke="#333333" stroke-width="1.2" />
<text x="382.5" y="354.32" text-anchor="end" font-size="13" fill="#1a1a1a" font-weight="normal"  stroke="#1a1a1a" stroke-width="0.3">30</text>
<line x1="387.5" y1="337.64" x2="389.7" y2="337.64" stroke="#333333" stroke-width="1.2" />
<line x1="387.5" y1="325.16" x2="391.5" y2="325.16" stroke="#333333" stroke-width="1.2" />
<text x="382.5" y="329.36" text-anchor="end" font-size="13" fill="#1a1a1a" font-weight="normal"  stroke="#1a1a1a" stroke-width="0.3">40</text>
<line x1="387.5" y1="312.68" x2="389.7" y2="312.68" stroke="#333333" stroke-width="1.2" />
<line x1="387.5" y1="300.2" x2="391.5" y2="300.2" stroke="#333333" stroke-width="1.2" />
<text x="382.5" y="304.4" text-anchor="end" font-size="13" fill="#1a1a1a" font-weight="normal"  stroke="#1a1a1a" stroke-width="0.3">50</text>
<line x1="387.5" y1="287.72" x2="389.7" y2="287.72" stroke="#333333" stroke-width="1.2" />
<line x1="387.5" y1="275.24" x2="391.5" y2="275.24" stroke="#333333" stroke-width="1.2" />
<text x="382.5" y="279.44" text-anchor="end" font-size="13" fill="#1a1a1a" font-weight="normal"  stroke="#1a1a1a" stroke-width="0.3">60</text>
<line x1="387.5" y1="262.76" x2="389.7" y2="262.76" stroke="#333333" stroke-width="1.2" />
<text x="382.5" y="254.48" text-anchor="end" font-size="13" fill="#1a1a1a" font-weight="normal"  stroke="#1a1a1a" stroke-width="0.3">70</text>
<line x1="394" y1="429.5" x2="394" y2="425.2" stroke="#333333" stroke-width="1.2" />
<text x="394" y="444.9" text-anchor="middle" font-size="13" fill="#1a1a1a" font-weight="normal"  stroke="#1a1a1a" stroke-width="0.3">0</text>
<line x1="424.57" y1="429.5" x2="424.57" y2="427.2" stroke="#333333" stroke-width="1.2" />
<line x1="455.15" y1="429.5" x2="455.15" y2="425.2" stroke="#333333" stroke-width="1.2" />
<text x="455.15" y="444.9" text-anchor="middle" font-size="13" fill="#1a1a1a" font-weight="normal"  stroke="#1a1a1a" stroke-width="0.3">5</text>
<line x1="485.73" y1="429.5" x2="485.73" y2="427.2" stroke="#333333" stroke-width="1.2" />
<line x1="516.3" y1="429.5" x2="516.3" y2="425.2" stroke="#333333" stroke-width="1.2" />
<text x="516.3" y="444.9" text-anchor="middle" font-size="13" fill="#1a1a1a" font-weight="normal"  stroke="#1a1a1a" stroke-width="0.3">&#x2007;0</text>
<path d="M763,0 L583,0 L583,1097 Q520,1038 419,979 Q318,920 238,890 L238,1057 Q382,1125 490,1221 Q598,1318 643,1409 L763,1409 Z" fill="#1a1a1a" stroke="#1a1a1a" stroke-width="0.3" vector-effect="non-scaling-stroke" transform="translate(509.070,444.9) scale(0.006348,-0.006348)"/>
<line x1="546.88" y1="429.5" x2="546.88" y2="427.2" stroke="#333333" stroke-width="1.2" />
<line x1="577.45" y1="429.5" x2="577.45" y2="425.2" stroke="#333333" stroke-width="1.2" />
<text x="577.45" y="444.9" text-anchor="middle" font-size="13" fill="#1a1a1a" font-weight="normal"  stroke="#1a1a1a" stroke-width="0.3">&#x2007;5</text>
<path d="M763,0 L583,0 L583,1097 Q520,1038 419,979 Q318,920 238,890 L238,1057 Q382,1125 490,1221 Q598,1318 643,1409 L763,1409 Z" fill="#1a1a1a" stroke="#1a1a1a" stroke-width="0.3" vector-effect="non-scaling-stroke" transform="translate(570.220,444.9) scale(0.006348,-0.006348)"/>
<line x1="608.02" y1="429.5" x2="608.02" y2="427.2" stroke="#333333" stroke-width="1.2" />
<line x1="638.6" y1="429.5" x2="638.6" y2="425.2" stroke="#333333" stroke-width="1.2" />
<text x="638.6" y="444.9" text-anchor="middle" font-size="13" fill="#1a1a1a" font-weight="normal"  stroke="#1a1a1a" stroke-width="0.3">20</text>
<line x1="455.15" y1="251.3" x2="455.15" y2="428.9" stroke="#fd9c40" stroke-width="1.15" stroke-dasharray="3.4 3.06" opacity="0.85"/>
<line x1="516.3" y1="251.3" x2="516.3" y2="428.9" stroke="#fd9c40" stroke-width="1.15" stroke-dasharray="3.4 3.06" opacity="0.85"/>
<line x1="577.45" y1="251.3" x2="577.45" y2="428.9" stroke="#fd9c40" stroke-width="1.15" stroke-dasharray="3.4 3.06" opacity="0.85"/>
<text x="413.4" y="264" text-anchor="start" font-size="12" fill="#1a1a1a" font-weight="normal"  stroke="#1a1a1a" stroke-width="0.3">&#x2007;st</text>
<path d="M763,0 L583,0 L583,1097 Q520,1038 419,979 Q318,920 238,890 L238,1057 Q382,1125 490,1221 Q598,1318 643,1409 L763,1409 Z" fill="#1a1a1a" stroke="#1a1a1a" stroke-width="0.3" vector-effect="non-scaling-stroke" transform="translate(413.400,264) scale(0.005859,-0.005859)"/>
<text x="477.2" y="264" text-anchor="start" font-size="12" fill="#1a1a1a" font-weight="normal"  stroke="#1a1a1a" stroke-width="0.3">2nd</text>
<text x="534.4" y="264" text-anchor="start" font-size="12" fill="#1a1a1a" font-weight="normal"  stroke="#1a1a1a" stroke-width="0.3">3rd</text>
<text x="596.4" y="264" text-anchor="start" font-size="12" fill="#1a1a1a" font-weight="normal"  stroke="#1a1a1a" stroke-width="0.3">4th</text>
<text x="427.7" y="290.9" text-anchor="start" font-size="13" fill="#0c78c2" stroke="#0c78c2" stroke-width="0.3">H<tspan font-size="9.8" dy="4.0">2</tspan></text>
<text x="431.3" y="348.3" text-anchor="start" font-size="13" fill="#f95a45" stroke="#f95a45" stroke-width="0.3">O<tspan font-size="9.8" dy="4.0">2</tspan></text>
<text x="429.9" y="415.9" text-anchor="start" font-size="13" fill="#999999" stroke="#999999" stroke-width="0.3">N<tspan font-size="9.8" dy="4.0">2</tspan></text>
<text x="516.5" y="461.8" text-anchor="middle" font-size="13" fill="#1a1a1a" font-weight="normal"  stroke="#1a1a1a" stroke-width="0.3">Time (h)</text>
<text transform="translate(358.3,340.3) rotate(-90)" text-anchor="middle" font-size="13" fill="#1a1a1a" stroke="#1a1a1a" stroke-width="0.3">Gas evolution (µmol)</text>
<text x="341" y="241" font-size="18.8" font-weight="bold" fill="#000" stroke="#000" stroke-width="0.3">d</text>
</svg>
</body></html>
